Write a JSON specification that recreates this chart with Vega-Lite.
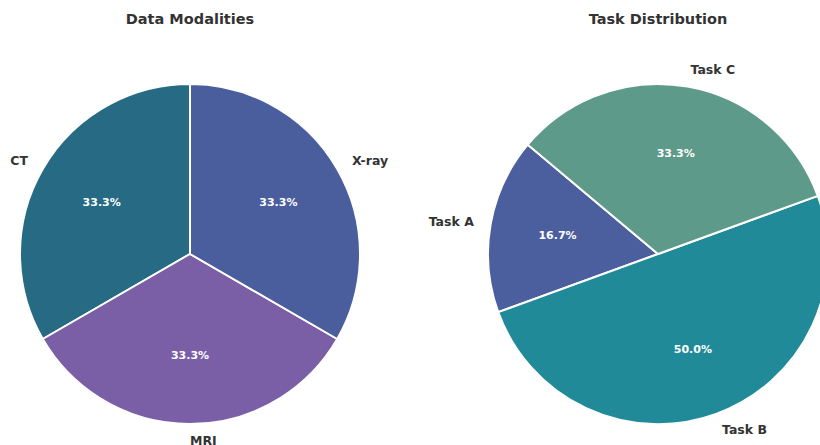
{
  "$schema": "https://vega.github.io/schema/vega-lite/v6.json",
  "padding": {"top": 12, "left": 0, "right": 0, "bottom": 0},
  "background": "white",
  "spacing": 108,
  "bounds": "flush",
  "resolve": {"scale": {"color": "independent", "theta": "independent"}},
  "config": {
    "view": {"stroke": null},
    "title": {"font": "DejaVu Sans", "fontSize": 14.5, "fontWeight": "bold", "color": "#333333", "offset": 34.5}
  },
  "hconcat": [
    {
      "width": 380,
      "height": 384,
      "title": "Data Modalities",
      "data": {"values": [
        {"modality": "CT", "share": 0.333333},
        {"modality": "MRI", "share": 0.333333},
        {"modality": "X-ray", "share": 0.333333}
      ]},
      "layer": [
        {
          "mark": {"type": "arc", "outerRadius": 170, "stroke": "white", "strokeWidth": 2},
          "encoding": {
            "theta": {"field": "share", "type": "quantitative", "stack": true, "scale": {"range": [6.283185, 0]}},
            "order": {"field": "modality", "sort": "ascending"},
            "color": {"field": "modality", "type": "nominal", "legend": null,
              "scale": {"domain": ["CT", "MRI", "X-ray"], "range": ["#266b83", "#7a5ea6", "#4a5d9c"]}}
          }
        },
        {
          "mark": {"type": "text", "radius": 102, "font": "DejaVu Sans", "fontSize": 11, "fontWeight": "bold", "color": "white", "baseline": "middle", "align": "center"},
          "encoding": {
            "theta": {"field": "share", "type": "quantitative", "stack": true, "scale": {"range": [6.283185, 0]}},
            "order": {"field": "modality", "sort": "ascending"},
            "detail": {"field": "modality", "type": "nominal"},
            "text": {"field": "share", "type": "quantitative", "format": ".1%"}
          }
        },
        {
          "mark": {"type": "text", "radius": 187, "font": "DejaVu Sans", "fontSize": 12.5, "fontWeight": "bold", "color": "#333333", "baseline": "middle",
            "align": {"expr": "datum.modality === 'CT' ? 'right' : 'left'"}},
          "encoding": {
            "theta": {"field": "share", "type": "quantitative", "stack": true, "scale": {"range": [6.283185, 0]}},
            "order": {"field": "modality", "sort": "ascending"},
            "detail": {"field": "modality", "type": "nominal"},
            "text": {"field": "modality", "type": "nominal"}
          }
        }
      ]
    },
    {
      "width": 332,
      "height": 384,
      "title": {"text": "Task Distribution", "dx": 4},
      "data": {"values": [
        {"task": "Task A", "share": 0.166667},
        {"task": "Task B", "share": 0.5},
        {"task": "Task C", "share": 0.333333}
      ]},
      "layer": [
        {
          "mark": {"type": "arc", "outerRadius": 170, "stroke": "white", "strokeWidth": 2, "clip": true, "xOffset": 4},
          "encoding": {
            "theta": {"field": "share", "type": "quantitative", "stack": true, "scale": {"range": [5.4105, -0.8727]}},
            "order": {"field": "task", "sort": "ascending"},
            "color": {"field": "task", "type": "nominal", "legend": null,
              "scale": {"domain": ["Task A", "Task B", "Task C"], "range": ["#4b5e9e", "#218a98", "#5d9a8a"]}}
          }
        },
        {
          "mark": {"type": "text", "radius": 102, "font": "DejaVu Sans", "fontSize": 11, "fontWeight": "bold", "color": "white", "baseline": "middle", "align": "center", "xOffset": 4},
          "encoding": {
            "theta": {"field": "share", "type": "quantitative", "stack": true, "scale": {"range": [5.4105, -0.8727]}},
            "order": {"field": "task", "sort": "ascending"},
            "detail": {"field": "task", "type": "nominal"},
            "text": {"field": "share", "type": "quantitative", "format": ".1%"}
          }
        },
        {
          "mark": {"type": "text", "radius": 187, "font": "DejaVu Sans", "fontSize": 12.5, "fontWeight": "bold", "color": "#333333", "baseline": "middle", "xOffset": 4,
            "align": {"expr": "datum.task === 'Task A' ? 'right' : 'left'"}},
          "encoding": {
            "theta": {"field": "share", "type": "quantitative", "stack": true, "scale": {"range": [5.4105, -0.8727]}},
            "order": {"field": "task", "sort": "ascending"},
            "detail": {"field": "task", "type": "nominal"},
            "text": {"field": "task", "type": "nominal"}
          }
        }
      ]
    }
  ]
}
